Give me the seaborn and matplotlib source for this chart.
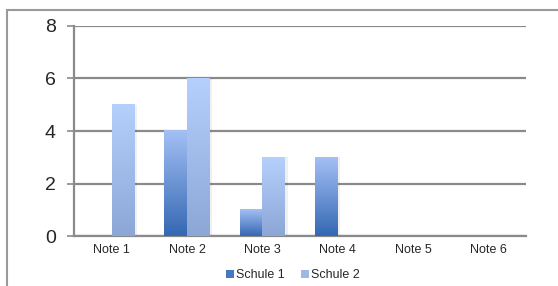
import numpy as np
import pandas as pd
import matplotlib
matplotlib.use("Agg")
import matplotlib.pyplot as plt
import seaborn as sns
from matplotlib.colors import LinearSegmentedColormap
from matplotlib.patches import Patch
from matplotlib.lines import Line2D

# ---------------------------------------------------------------------------
# Data
# ---------------------------------------------------------------------------
categories = ["Note 1", "Note 2", "Note 3", "Note 4", "Note 5", "Note 6"]
schule_1 = [0, 4, 1, 3, 0, 0]
schule_2 = [5, 6, 3, 0, 0, 0]
series_names = ["Schule 1", "Schule 2"]
y_ticks = [0, 2, 4, 6, 8]

# gradient (bottom, top) per series
gradients = {
    "Schule 1": ("#3468b3", "#a4c0f5"),
    "Schule 2": ("#8ca7d6", "#b6d0fd"),
}
legend_colors = {"Schule 1": "#4677c4", "Schule 2": "#9fb7e6"}

df = pd.DataFrame({
    "Note": categories * 2,
    "Anzahl": schule_1 + schule_2,
    "Schule": [series_names[0]] * len(categories) + [series_names[1]] * len(categories),
})

# ---------------------------------------------------------------------------
# Plot
# ---------------------------------------------------------------------------
sns.set_style("white")
plt.rcParams["font.family"] = ["Liberation Sans", "DejaVu Sans"]

fig = plt.figure(figsize=(5.58, 2.86), dpi=100)
ax = fig.add_axes([0.1326, 0.1748, 0.8101, 0.7343])

sns.barplot(
    data=df, x="Note", y="Anzahl", hue="Schule", hue_order=series_names,
    order=categories, width=0.6, ax=ax, legend=False, saturation=1,
)

# replace flat bars with vertical gradients
n_cat = len(categories)
for i, bar in enumerate(ax.patches):
    name = series_names[i // n_cat]
    x, w, h = bar.get_x(), bar.get_width(), bar.get_height()
    bar.set_facecolor("none")
    bar.set_edgecolor("none")
    if h <= 0:
        continue
    cmap = LinearSegmentedColormap.from_list(name, gradients[name])
    grad = np.linspace(0, 1, 256).reshape(-1, 1)
    # soft shadow on the right side
    ax.add_patch(plt.Rectangle((x + w, 0), 0.035, h, color="#000000",
                               alpha=0.06, lw=0, zorder=2))
    ax.imshow(grad, cmap=cmap, origin="lower", aspect="auto",
              extent=[x, x + w, 0, h], zorder=3, interpolation="bilinear")

ax.set_xlim(-0.5, len(categories) - 0.5)
ax.set_ylim(0, 8)

# grid + axes styling
ax.set_yticks(y_ticks)
ax.set_yticklabels([str(t) for t in y_ticks], fontsize=14)
ax.yaxis.grid(True, color="#8a8a8a", linewidth=1.6)
ax.set_axisbelow(True)
ax.set_xticks(range(n_cat))
ax.set_xticklabels(categories, fontsize=9)
ax.set_xticks(np.arange(-0.5, n_cat, 1), minor=True)
ax.tick_params(axis="x", which="major", length=0, pad=6)
ax.tick_params(axis="x", which="minor", length=3, width=1.2, color="#8a8a8a",
               direction="out")
ax.tick_params(axis="y", length=5, width=1.2, color="#8a8a8a", direction="out",
               pad=8, left=True)
ax.set_xlabel("")
ax.set_ylabel("")

for side in ["top", "right"]:
    ax.spines[side].set_visible(False)
for side in ["left", "bottom"]:
    ax.spines[side].set_color("#8a8a8a")
    ax.spines[side].set_linewidth(1.6)

# legend
handles = [Patch(facecolor=legend_colors[s], edgecolor="none", label=s)
           for s in series_names]
fig.legend(handles=handles, loc="center", bbox_to_anchor=(0.525, 0.038),
           ncol=2, frameon=False, fontsize=9, handlelength=0.6,
           handleheight=0.6, handletextpad=0.2, columnspacing=1.3)

# outer chart frame (left and top edges visible)
frame_c = "#9a9a9a"
fig.add_artist(Line2D([7 / 558, 7 / 558], [0, 1 - 10 / 286],
                      transform=fig.transFigure, color=frame_c, lw=1.5))
fig.add_artist(Line2D([7 / 558, 1], [1 - 10 / 286, 1 - 10 / 286],
                      transform=fig.transFigure, color=frame_c, lw=1.5))

fig.savefig("out.png", dpi=100)
plt.close(fig)
